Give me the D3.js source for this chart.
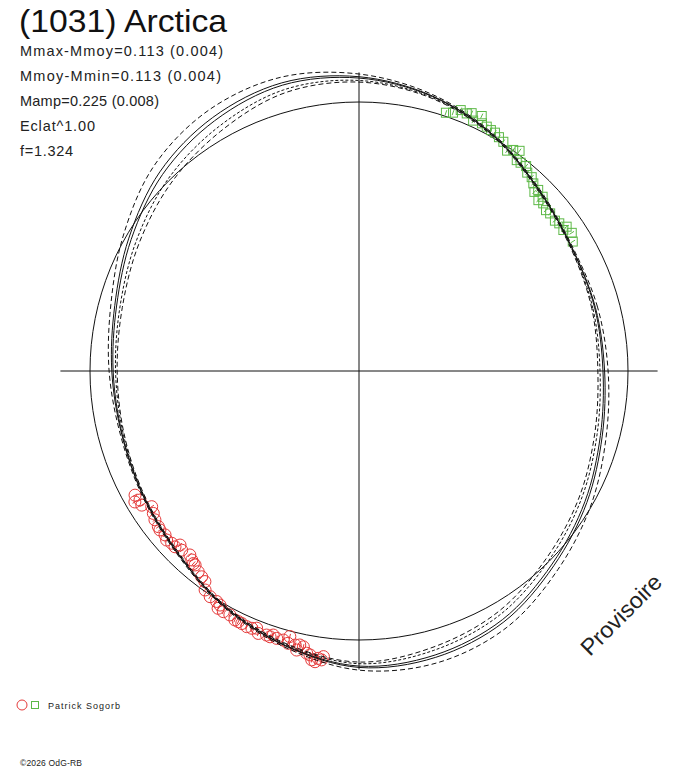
<!DOCTYPE html>
<html><head><meta charset="utf-8">
<script src="https://cdn.jsdelivr.net/npm/d3@7"></script>
<style>
html,body{margin:0;padding:0;background:#fff;}
svg{display:block;font-family:"Liberation Sans",Arial,sans-serif;}
</style>
</head><body>
<svg id="chart" width="688" height="768"></svg>
<script>
// ---------- data ----------
const titleText = "(1031) Arctica";
const infoLines = ["Mmax-Mmoy=0.113 (0.004)", "Mmoy-Mmin=0.113 (0.004)", "Mamp=0.225 (0.008)", "Eclat^1.00", "f=1.324"];
const observerName = "Patrick Sogorb";
const creditText = "\u00A92026 OdG-RB";
const watermarkText = "Provisoire";

// polar angle of the model curves (degrees, counter-clockwise from +x)
const curveAngles = [0,15,30,45,60,75,90,105,120,135,150,165,180,195,210,225,240,255,270,285,300,315,330,345];
// relative radius (1 = reference circle)
const solidMain  = [.907,.907,.914,.948,1.007,1.056,1.089,1.100,1.074,1.033,.978,.933,.914,.911,.926,.955,1.007,1.056,1.097,1.093,1.067,1.015,.970,.929];
const solidAlt   = [.913,.910,.915,.949,1.008,1.058,1.094,1.109,1.088,1.047,.988,.940,.919,.913,.927,.956,1.008,1.058,1.102,1.102,1.077,1.024,.978,.936];
const dashOuter  = [.926,.918,.918,.952,1.011,1.063,1.104,1.130,1.119,1.078,1.011,.955,.929,.918,.930,.959,1.011,1.063,1.112,1.123,1.100,1.045,.996,.951];
const dashInner1 = [.896,.900,.912,.946,1.005,1.052,1.080,1.082,1.047,1.006,.958,.920,.905,.907,.924,.953,1.005,1.052,1.088,1.075,1.047,.997,.954,.916];
const dashInner2 = [.888,.896,.910,.944,1.003,1.049,1.074,1.070,1.029,.988,.945,.911,.899,.904,.922,.951,1.003,1.049,1.082,1.063,1.034,.985,.944,.907];

// observations (red circles)
const redAngles = [209.0,210.3,211.7,213.2,214.7,216.1,217.8,220.2,221.3,222.6,224.2,225.3,227.4,228.5,229.8,231.3,233.8,234.9,236.6,238.3,239.3,240.6,242.1,243.5,245.1,246.3,248.3,249.0,250.7,252.0,252.9,254.3,255.4,255.4,256.9,257.8,258.6,260.2,260.7,261.9,262.6,262.9,210.5,218.6,223.7,229.3,232.6,239.3,244.3,247.4,251.5,257.4,259.5,261.4];
const redRadii  = [.952,.965,.949,.921,.930,.939,.944,.944,.952,.946,.928,.937,.929,.938,.944,.956,.970,.995,1.005,1.007,1.026,1.027,1.026,1.034,1.035,1.038,1.029,1.045,1.040,1.032,1.040,1.039,1.020,1.046,1.046,1.042,1.046,1.071,1.088,1.079,1.083,1.070,.945,.947,.946,.944,.963,1.012,1.034,1.036,1.042,1.063,1.067,1.093];
// observations (green squares)
const greenAngles = [71.4,70.0,68.7,67.3,66.4,65.5,64.3,63.6,62.4,61.3,60.3,59.1,57.8,56.1,55.1,53.9,53.2,52.2,50.8,49.7,48.3,47.1,45.6,45.3,43.6,43.5,42.3,40.7,39.5,37.5,36.4,34.6,34.8,33.0,31.2];
const greenRadii  = [1.013,1.022,1.041,1.038,1.046,1.023,1.052,1.028,1.025,1.021,1.020,1.013,1.007,.987,1.002,1.013,.979,.980,.983,.967,.965,.952,.932,.947,.921,.941,.926,.917,.921,.918,.925,.923,.940,.943,.929];
const pointErr = 0.010;
const referenceRadius = 1.0;
const axisExtent = 1.11;

// ---------- layout ----------
const svg = d3.select("#chart");
const cx = 359, cy = 371, R = 269;
const rScale = d3.scaleLinear().domain([0, 1]).range([0, R]);
const toRad = d => d * Math.PI / 180;
const polar = (deg, r) => d3.pointRadial(toRad(90 - deg), rScale(r));

const g = svg.append("g").attr("transform", `translate(${cx},${cy})`);

// axes
g.append("line").attr("x1", -rScale(axisExtent)).attr("x2", rScale(axisExtent))
  .attr("y1", 0).attr("y2", 0).attr("stroke", "#111").attr("stroke-width", 1);
g.append("line").attr("y1", -rScale(axisExtent)).attr("y2", rScale(axisExtent))
  .attr("x1", 0).attr("x2", 0).attr("stroke", "#111").attr("stroke-width", 1);

// reference circle
g.append("circle").attr("r", rScale(referenceRadius)).attr("fill", "none")
  .attr("stroke", "#111").attr("stroke-width", 1);

// observations
const red = redAngles.map((a, i) => ({a, r: redRadii[i]}));
const green = greenAngles.map((a, i) => ({a, r: greenRadii[i]}));

const errLine = (sel, col) => sel.append("line")
  .attr("x1", d => polar(d.a, d.r - pointErr)[0]).attr("y1", d => polar(d.a, d.r - pointErr)[1])
  .attr("x2", d => polar(d.a, d.r + pointErr)[0]).attr("y2", d => polar(d.a, d.r + pointErr)[1])
  .attr("stroke", col).attr("stroke-width", 1);

const redG = g.append("g").selectAll("g").data(red).join("g");
redG.append("circle").attr("cx", d => polar(d.a, d.r)[0]).attr("cy", d => polar(d.a, d.r)[1])
  .attr("r", 6).attr("fill", "none").attr("stroke", "#e53a3a").attr("stroke-width", 1);
errLine(redG, "#e53a3a");

const greenG = g.append("g").selectAll("g").data(green).join("g");
greenG.append("rect").attr("x", d => polar(d.a, d.r)[0] - 4.5).attr("y", d => polar(d.a, d.r)[1] - 4.5)
  .attr("width", 9).attr("height", 9).attr("fill", "none").attr("stroke", "#5cb846").attr("stroke-width", 1);
errLine(greenG, "#5cb846");

// model curves
const radial = d3.lineRadial()
  .angle(d => toRad(90 - d.a))
  .radius(d => rScale(d.r))
  .curve(d3.curveCatmullRomClosed.alpha(0.5));
const curves = [
  {vals: dashOuter, dash: "5,3"},
  {vals: dashInner1, dash: "3,2"},
  {vals: dashInner2, dash: "5,3"},
  {vals: solidAlt, dash: null},
  {vals: solidMain, dash: null}
];
curves.forEach(c => {
  g.append("path")
    .attr("d", radial(curveAngles.map((a, i) => ({a, r: c.vals[i]}))))
    .attr("fill", "none").attr("stroke", "#111").attr("stroke-width", 1)
    .attr("stroke-dasharray", c.dash);
});

// texts
svg.append("text").attr("x", 19).attr("y", 32).attr("font-size", 32)
  .attr("textLength", 208).attr("lengthAdjust", "spacingAndGlyphs")
  .attr("fill", "#111").text(titleText);
const infoY = [56, 81, 106, 131, 156];
const infoW = [203, 201, 139, 75, 53];
infoLines.forEach((t, i) => {
  svg.append("text").attr("x", 20).attr("y", infoY[i]).attr("font-size", 14.5)
    .attr("textLength", infoW[i]).attr("lengthAdjust", "spacing")
    .attr("fill", "#222").text(t);
});

svg.append("text").attr("transform", "translate(590,657) rotate(-45)")
  .attr("font-size", 23).attr("textLength", 104).attr("lengthAdjust", "spacingAndGlyphs")
  .attr("fill", "#222").text(watermarkText);

// legend
svg.append("circle").attr("cx", 22).attr("cy", 705).attr("r", 5)
  .attr("fill", "none").attr("stroke", "#e53a3a");
svg.append("rect").attr("x", 31.5).attr("y", 701.5).attr("width", 7).attr("height", 7)
  .attr("fill", "none").attr("stroke", "#5cb846");
svg.append("text").attr("x", 48).attr("y", 709).attr("font-size", 9)
  .attr("textLength", 72).attr("lengthAdjust", "spacing").attr("fill", "#222").text(observerName);
svg.append("text").attr("x", 20).attr("y", 766).attr("font-size", 8.5)
  .attr("textLength", 62).attr("lengthAdjust", "spacing").attr("fill", "#222").text(creditText);
</script>
</body></html>
